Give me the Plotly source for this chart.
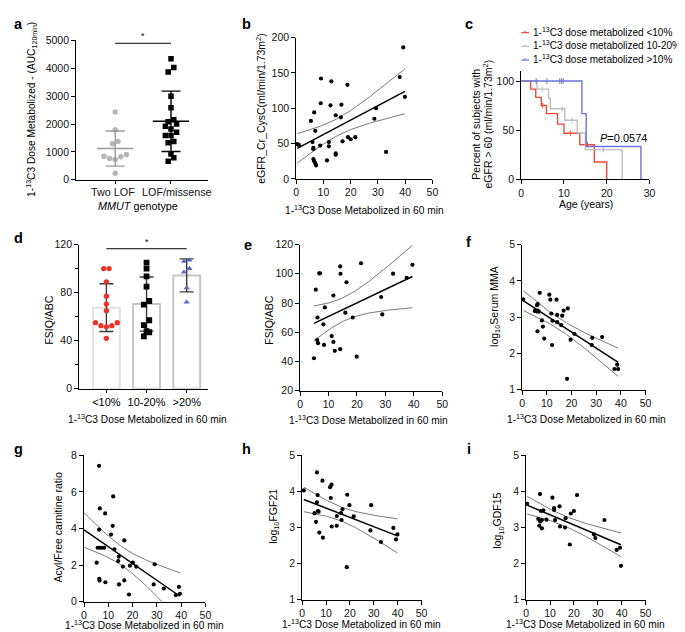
import numpy as np
import plotly.graph_objects as go

W, H = 685, 632
FONT = "Liberation Sans, Arial, sans-serif"

# ---------------- data ----------------
a_categories = ["Two LOF", "LOF/missense"]
a_two_lof = [2435, 1800, 1294, 1376, 847, 765, 729, 824, 906, 235]
a_lof_missense = [4341, 4035, 3870, 3000, 2588, 2153, 2082, 2000, 1918, 1824,
                  1706, 1588, 1588, 1329, 1376, 929, 788, 670]

b_x = [0.4, 1.0, 5.4, 6.6, 7.0, 6.0, 6.3, 6.3, 6.3, 6.6, 7.0, 7.3, 9.0, 9.1, 8.8,
       11.3, 12.0, 12.0, 12.6, 12.9, 14.5, 14.5, 14.5, 16.4, 16.6, 17.0, 18.8, 19.0,
       20.0, 21.7, 28.7, 29.3, 33.0, 38.0, 39.3, 39.9]
b_y = [49, 48, 82, 94, 68, 52, 44, 42, 28, 25, 22, 19, 107, 142, 47,
       26, 52, 46, 104, 138, 90, 36, 34, 87, 105, 53, 133, 59,
       56, 59, 85, 100, 38, 144, 186, 116]

c_lt10_t = [0, 2.2, 3.4, 4.7, 5.9, 8.5, 10.0, 13.7, 17.1, 20.0]
c_lt10_s = [100, 91.7, 83.3, 75, 66.7, 56, 46.7, 35, 17.5, 0]
c_1020_t = [0, 3.7, 6.4, 6.8, 10.2, 13.1, 15.0, 23.6]
c_1020_s = [100, 91.7, 82.5, 71.7, 60, 47, 30, 0]
c_gt10_t = [0, 14.2, 15.2, 28.0]
c_gt10_s = [100, 66.7, 33.3, 0]
c_lt10_cens_t = [5.0, 11.5, 15.5]
c_lt10_cens_s = [75, 46.7, 35]
c_1020_cens_t = [4.9, 9.6, 11.9, 19.2]
c_1020_cens_s = [91.7, 71.7, 60, 30]
c_gt10_cens_t = [3.5, 6.0, 9.0, 9.4, 9.8]
c_gt10_cens_s = [100, 100, 100, 100, 100]
c_legend = ["1-<sup>13</sup>C3 dose metabolized &lt;10%",
            "1-<sup>13</sup>C3 dose metabolized 10-20%",
            "1-<sup>13</sup>C3 dose metabolized &gt;10%"]
c_pvalue = "<i>P</i>=0.0574"

d_categories = ["&lt;10%", "10-20%", "&gt;20%"]
d_lt10 = [100, 100, 89, 77, 70.5, 65, 55, 52.5, 51.5, 52.5, 55, 42]
d_10_20 = [105, 100, 93.5, 85, 73, 70, 57, 53, 48, 47, 43.5]
d_gt20 = [107, 106, 97, 100, 84, 72]

e_x = [4.85, 5.5, 6.1, 6.0, 6.3, 6.7, 7.0, 8.2, 8.7, 8.4, 11.1, 11.7, 11.7, 12.2,
       14.1, 14.2, 14.1, 15.9, 16.3, 18.5, 19.9, 21.4, 28.5, 28.9, 32.7, 37.5, 39.5]
e_y = [42.2, 89.1, 70.1, 54.7, 52.5, 100.3, 100.3, 65.4, 77.0, 51.3, 57.4, 85.1, 53.4, 47.3,
       105, 100, 48.4, 73.4, 94.2, 70.1, 43.3, 107.2, 84.1, 72.2, 100.1, 97.2, 106.1]

f_x = [0.4, 5.1, 5.8, 6.0, 6.3, 6.3, 6.7, 7.1, 6.2, 8.0, 8.4, 8.9, 11.0, 11.4, 11.8,
       12.3, 12.1, 13.9, 14.2, 14.2, 15.8, 16.2, 16.8, 18.5, 18.2, 19.6, 21.2, 28.4,
       28.2, 32.4, 37.4, 38.5, 38.9]
f_y = [3.49, 3.17, 3.16, 3.33, 3.36, 3.18, 3.15, 3.67, 2.61, 2.91, 2.74, 2.41, 3.62, 3.48, 3.10,
       2.90, 2.23, 3.48, 3.06, 2.86, 2.78, 3.04, 3.18, 3.24, 1.30, 2.38, 2.54, 2.43,
       2.23, 2.45, 1.57, 1.69, 1.57]

g_x = [6.2, 6.5, 6.2, 5.2, 5.6, 6.5, 7.3, 8.3, 6.3, 6.4, 8.8, 8.7, 12.0, 11.8, 11.1, 12.5,
       16.6, 14.3, 14.1, 16.0, 14.4, 16.6, 18.5, 18.9, 20.1, 21.5, 29.1, 28.7, 32.9,
       37.8, 39.1, 39.5]
g_y = [7.43, 5.10, 3.94, 2.13, 2.95, 2.95, 2.95, 2.95, 1.25, 1.15, 1.06, 4.83, 5.76, 4.15, 3.67, 2.86,
       3.35, 2.46, 2.22, 1.92, 0.94, 1.16, 0.39, 1.97, 2.13, 1.92, 2.04, 0.94, 0.72,
       0.36, 0.81, 0.43]

h_x = [0.7, 6.2, 8.5, 11.7, 12.3, 6.5, 12.0, 18.9, 19.8, 28.9, 6.2, 6.6, 6.9, 5.2, 5.8,
       7.2, 8.7, 12.4, 14.5, 14.5, 16.3, 16.5, 16.9, 21.6, 18.7, 28.6, 33.0, 38.2, 39.3, 39.9]
h_y = [4.03, 4.53, 4.30, 4.12, 4.19, 3.90, 3.82, 3.91, 3.62, 3.62, 3.70, 3.46, 3.44, 3.40, 3.16,
       2.86, 2.72, 3.03, 3.05, 3.32, 3.40, 3.21, 3.51, 3.31, 1.90, 2.92, 2.60, 2.99, 2.67, 2.81]

i_x = [0.4, 5.8, 5.1, 5.5, 5.9, 6.2, 6.6, 7.2, 6.6, 8.5, 11.0, 11.7, 11.7, 12.1, 14.0,
       14.2, 16.5, 16.3, 18.3, 18.7, 20.0, 21.3, 28.4, 29.0, 32.8, 37.9, 39.3, 39.7]
i_y = [3.66, 3.93, 3.24, 3.05, 3.17, 3.46, 3.21, 3.48, 2.98, 3.22, 3.83, 3.54, 3.49, 3.21, 3.59,
       3.03, 3.26, 3.00, 2.53, 3.39, 3.46, 3.90, 2.81, 2.71, 3.21, 2.38, 2.44, 1.94]

XT = "1-<sup>13</sup>C3 Dose Metabolized in 60 min"

# ---------------- helpers ----------------
TICK = 10.5
TITLE = 10.5
fig = go.Figure()
layout = dict(width=W, height=H, margin=dict(l=0, r=0, t=0, b=0),
              paper_bgcolor="white", plot_bgcolor="white", showlegend=False,
              font=dict(family=FONT, size=11, color="black"))
annotations, shapes = [], []
axinfo = {}


def px2x(px):
    return px / W


def px2y(py):
    return 1 - py / H


def add_axes(k, x0, x1, ytop, ybot, xr, yr, xkw=None, ykw=None):
    base = dict(showgrid=False, zeroline=False, showline=True, linecolor="black",
                linewidth=1, ticks="outside", ticklen=4, tickwidth=1, tickcolor="black",
                tickangle=0, tickfont=dict(family=FONT, size=TICK, color="#111"), fixedrange=True)
    xa = dict(base, domain=[px2x(x0), px2x(x1)], range=xr, anchor="y" if k == 1 else f"y{k}")
    ya = dict(base, domain=[px2y(ybot), px2y(ytop)], range=yr, anchor="x" if k == 1 else f"x{k}")
    xa.update(xkw or {})
    ya.update(ykw or {})
    layout["xaxis" if k == 1 else f"xaxis{k}"] = xa
    layout["yaxis" if k == 1 else f"yaxis{k}"] = ya
    axinfo[k] = dict(xpx=(x1 - x0) / (xr[1] - xr[0]), ypx=(ybot - ytop) / (yr[1] - yr[0]))


def ref(k):
    return ("x", "y") if k == 1 else (f"x{k}", f"y{k}")


def text(x, y, s, size=TITLE, angle=0, xanchor="center", yanchor="middle", **kw):
    annotations.append(dict(xref="paper", yref="paper", x=px2x(x), y=px2y(y), text=s,
                            showarrow=False, textangle=angle, xanchor=xanchor, yanchor=yanchor,
                            font=dict(family=FONT, size=size, color="black"), **kw))


def tcrit(df):
    z = 1.959964
    return z + (z**3 + z) / (4 * df) + (5 * z**5 + 16 * z**3 + 3 * z) / (96 * df**2)


def fit_ci(x, y, x0=None, x1=None, n=80):
    x = np.asarray(x, float)
    y = np.asarray(y, float)
    slope, icpt = np.polyfit(x, y, 1)
    x0 = x.min() if x0 is None else x0
    x1 = x.max() if x1 is None else x1
    xs = np.linspace(x0, x1, n)
    yh = icpt + slope * xs
    res = y - (icpt + slope * x)
    m = len(x)
    s = np.sqrt((res ** 2).sum() / (m - 2))
    sxx = ((x - x.mean()) ** 2).sum()
    se = s * np.sqrt(1 / m + (xs - x.mean()) ** 2 / sxx)
    t = tcrit(m - 2)
    return xs, yh, yh - t * se, yh + t * se, slope, icpt


def swarm(values, center, spacing_px, k):
    """row-based beeswarm: points closer than spacing (px) share a row"""
    xpx, ypx = axinfo[k]["xpx"], axinfo[k]["ypx"]
    order = np.argsort(values, kind="stable")
    vals = np.asarray(values, float)
    offs = np.zeros(len(vals))
    rows, cur = [], []
    for idx in order:
        if cur and (vals[idx] - vals[cur[0]]) * ypx >= spacing_px:
            rows.append(cur)
            cur = []
        cur.append(idx)
    if cur:
        rows.append(cur)
    for row in rows:
        n = len(row)
        if n % 2:
            slots = [0] + [s for j in range(1, n) for s in (-j, j)]
        else:
            slots = [s for j in range(n) for s in (-(j + 0.5), j + 0.5)]
        for idx, sl in zip(row, slots[:n]):
            offs[idx] = sl
    return center + offs * spacing_px / xpx


def scatter_panel(k, xs, ys, x0=None, x1=None):
    xr, yr = ref(k)
    lx, ly, lo, hi, _, _ = fit_ci(xs, ys, x0, x1)
    for yy, c, w in ((hi, "#555555", 0.8), (lo, "#555555", 0.8), (ly, "black", 1.5)):
        fig.add_trace(go.Scatter(x=lx, y=yy, mode="lines", line=dict(color=c, width=w),
                                 xaxis=xr, yaxis=yr, hoverinfo="skip"))
    fig.add_trace(go.Scatter(x=xs, y=ys, mode="markers",
                             marker=dict(color="black", size=4.2),
                             xaxis=xr, yaxis=yr, cliponaxis=False))


# ---------------- axes ----------------
xk = dict(dtick=10, tick0=0)
add_axes(1, 66, 200, 27, 169, [-0.7, 1.67], [0, 5000],
         dict(tickvals=[0, 1], showticklabels=False, ticklen=3),
         dict(dtick=1000))
add_axes(2, 289, 427, 24, 168, [0, 50], [0, 200], xk, dict(dtick=50))
add_axes(3, 517, 647, 58.3, 168.3, [0, 30], [0, 110], xk, dict(tickvals=[0, 50, 100]))
add_axes(4, 69, 200, 235, 382, [-0.68, 2.54], [0, 120],
         dict(tickvals=[0, 1, 2], ticktext=d_categories, ticklen=3, tickfont=dict(size=11)),
         dict(tickvals=[0, 40, 80, 120],
              minor=dict(dtick=20, tick0=0, ticklen=3, ticks="outside", tickcolor="black")))
add_axes(5, 293, 437, 235, 384, [0, 50], [20, 120], xk, dict(dtick=20))
add_axes(6, 518, 643, 235, 383, [0, 50], [1, 5], xk, dict(dtick=1))
add_axes(7, 74, 197, 450, 599, [0, 50], [0, 8], xk, dict(dtick=2))
add_axes(8, 295, 416, 450, 597, [0, 50], [1, 5], xk, dict(dtick=1))
add_axes(9, 522, 643, 450, 597, [0, 50], [1, 5], xk, dict(dtick=1))

# ---------------- panel a ----------------
for ci, (vals, col, sym, ecol) in enumerate(((a_two_lof, "#b5b5b5", "circle", "#9a9a9a"),
                                             (a_lof_missense, "black", "square", "black"))):
    xs = swarm(vals, ci, 5.7, 1)
    fig.add_trace(go.Scatter(x=xs, y=vals, mode="markers",
                             marker=dict(color=col, size=5.5, symbol=sym), xaxis="x", yaxis="y"))
    m, sd = np.mean(vals), np.std(vals, ddof=1)
    fig.add_trace(go.Scatter(x=[ci], y=[m], mode="markers",
                             marker=dict(symbol="line-ew", size=26, line=dict(color=ecol, width=1.4)),
                             error_y=dict(type="data", array=[sd], width=9.5, color=ecol, thickness=1.4),
                             xaxis="x", yaxis="y"))
# category labels (spread a little so they do not touch, as in the original)
for ci, (lab, shift) in enumerate(zip(a_categories, (-2, 6))):
    annotations.append(dict(xref="x", yref="paper", x=ci, y=px2y(181), xshift=shift, text=lab,
                            showarrow=False, xanchor="center", yanchor="middle",
                            font=dict(family=FONT, size=10.8, color="#111")))
shapes.append(dict(type="line", xref="x", yref="y", x0=0, x1=1, y0=4900, y1=4900,
                   line=dict(color="black", width=1)))
annotations.append(dict(xref="x", yref="y", x=0.5, y=4900, yshift=7, text="*", showarrow=False,
                        font=dict(family=FONT, size=9, color="black")))
text(21, 97, "1-<sup>13</sup>C3 Dose Metabolized - (AUC<sub>120min</sub>)", angle=-90, size=10.2)
text(129, 196, "<i>MMUT</i> genotype", size=10.8)

# ---------------- panel b ----------------
scatter_panel(2, b_x, b_y)
text(252, 96, "eGFR_Cr_CysC(ml/min/1.73m<sup>2</sup>)", angle=-90)
text(358, 200, XT, size=10.2)

# ---------------- panel c ----------------
c_cols = ["#ee4a36", "#bdbdbd", "#6e74d6"]
for (t, s, ct, cs), col in zip(((c_lt10_t, c_lt10_s, c_lt10_cens_t, c_lt10_cens_s),
                                (c_1020_t, c_1020_s, c_1020_cens_t, c_1020_cens_s),
                                (c_gt10_t, c_gt10_s, c_gt10_cens_t, c_gt10_cens_s)), c_cols):
    fig.add_trace(go.Scatter(x=t, y=s, mode="lines", line=dict(color=col, width=1.4, shape="hv"),
                             xaxis="x3", yaxis="y3", cliponaxis=False))
    fig.add_trace(go.Scatter(x=ct, y=cs, mode="markers",
                             marker=dict(symbol="line-ns", size=4, line=dict(color=col, width=1)),
                             xaxis="x3", yaxis="y3", cliponaxis=False))
for j, (lab, col) in enumerate(zip(c_legend, c_cols)):
    yy = 18 + 14 * j
    shapes.append(dict(type="line", xref="paper", yref="paper", x0=px2x(517), x1=px2x(525),
                       y0=px2y(yy + 1), y1=px2y(yy + 1), line=dict(color=col, width=1.2)))
    shapes.append(dict(type="line", xref="paper", yref="paper", x0=px2x(521), x1=px2x(521),
                       y0=px2y(yy - 1), y1=px2y(yy + 1), line=dict(color=col, width=1)))
    text(527, yy, lab, size=10, xanchor="left")
text(595, 126, c_pvalue, size=11, xanchor="left")
text(471, 112, "Percent of subjects with", angle=-90)
text(483, 112, "eGFR &gt; 60 (ml/min/1.73m<sup>2</sup>)", angle=-90)
text(583, 194, "Age (years)", size=10.5)

# ---------------- panel d ----------------
d_groups = [d_lt10, d_10_20, d_gt20]
d_means = [float(np.mean(g)) for g in d_groups]
d_sds = [float(np.std(g, ddof=1)) for g in d_groups]
fig.add_trace(go.Bar(x=[0, 1, 2], y=d_means, width=0.67,
                     marker=dict(color="white", line=dict(color=["#e2e2e2", "#c6c6c6", "#c6c6c6"], width=2)),
                     error_y=dict(type="data", array=d_sds, width=7, color="#3a3a3a", thickness=1.4),
                     xaxis="x4", yaxis="y4"))
for ci, (vals, col, sym, sz) in enumerate(((d_lt10, "#ee3224", "circle", 5.3),
                                           (d_10_20, "black", "square", 5.8),
                                           (d_gt20, "#5566c4", "triangle-up", 5.5))):
    xs = swarm(vals, ci, 5.5, 4)
    fig.add_trace(go.Scatter(x=xs, y=vals, mode="markers",
                             marker=dict(color=col, size=sz, symbol=sym), xaxis="x4", yaxis="y4"))
shapes.append(dict(type="line", xref="x4", yref="y4", x0=0, x1=2, y0=116.5, y1=116.5,
                   line=dict(color="black", width=1)))
annotations.append(dict(xref="x4", yref="y4", x=1, y=116.5, yshift=7, text="*", showarrow=False,
                        font=dict(family=FONT, size=9, color="black")))
text(39, 312, "FSIQ/ABC", angle=-90)
text(138, 413, XT, size=10.2)

# ---------------- panels e-i ----------------
scatter_panel(5, e_x, e_y)
text(262, 312, "FSIQ/ABC", angle=-90)
text(362, 414, XT, size=10.2)

scatter_panel(6, f_x, f_y)
text(491, 298, "log<sub>10</sub>Serum MMA", angle=-90)
text(583, 413, XT, size=10.2)

_, _, _, _, g_slope, g_icpt = fit_ci(g_x, g_y)
scatter_panel(7, g_x, g_y, 0, min(max(g_x), -g_icpt / g_slope))
text(48, 523, "Acyl/Free carnitine ratio", angle=-90)
text(135, 623, XT, size=10.2)

scatter_panel(8, h_x, h_y)
text(267, 512, "log<sub>10</sub>FGF21", angle=-90)
text(355, 622, XT, size=10.2)

scatter_panel(9, i_x, i_y)
text(494, 517, "log<sub>10</sub>GDF15", angle=-90)
text(582, 622, XT, size=10.2)

# ---------------- panel letters ----------------
for lab, (x, y) in zip("abcdefghi", [(8, 10), (239, 10), (464, 10), (8, 228), (240, 235),
                                     (464, 232), (8, 443), (239, 443), (464, 443)]):
    text(x, y, f"<b>{lab}</b>", size=14.5)

layout["annotations"] = annotations
layout["shapes"] = shapes
fig.update_layout(**layout)
fig.write_html("out.html")
